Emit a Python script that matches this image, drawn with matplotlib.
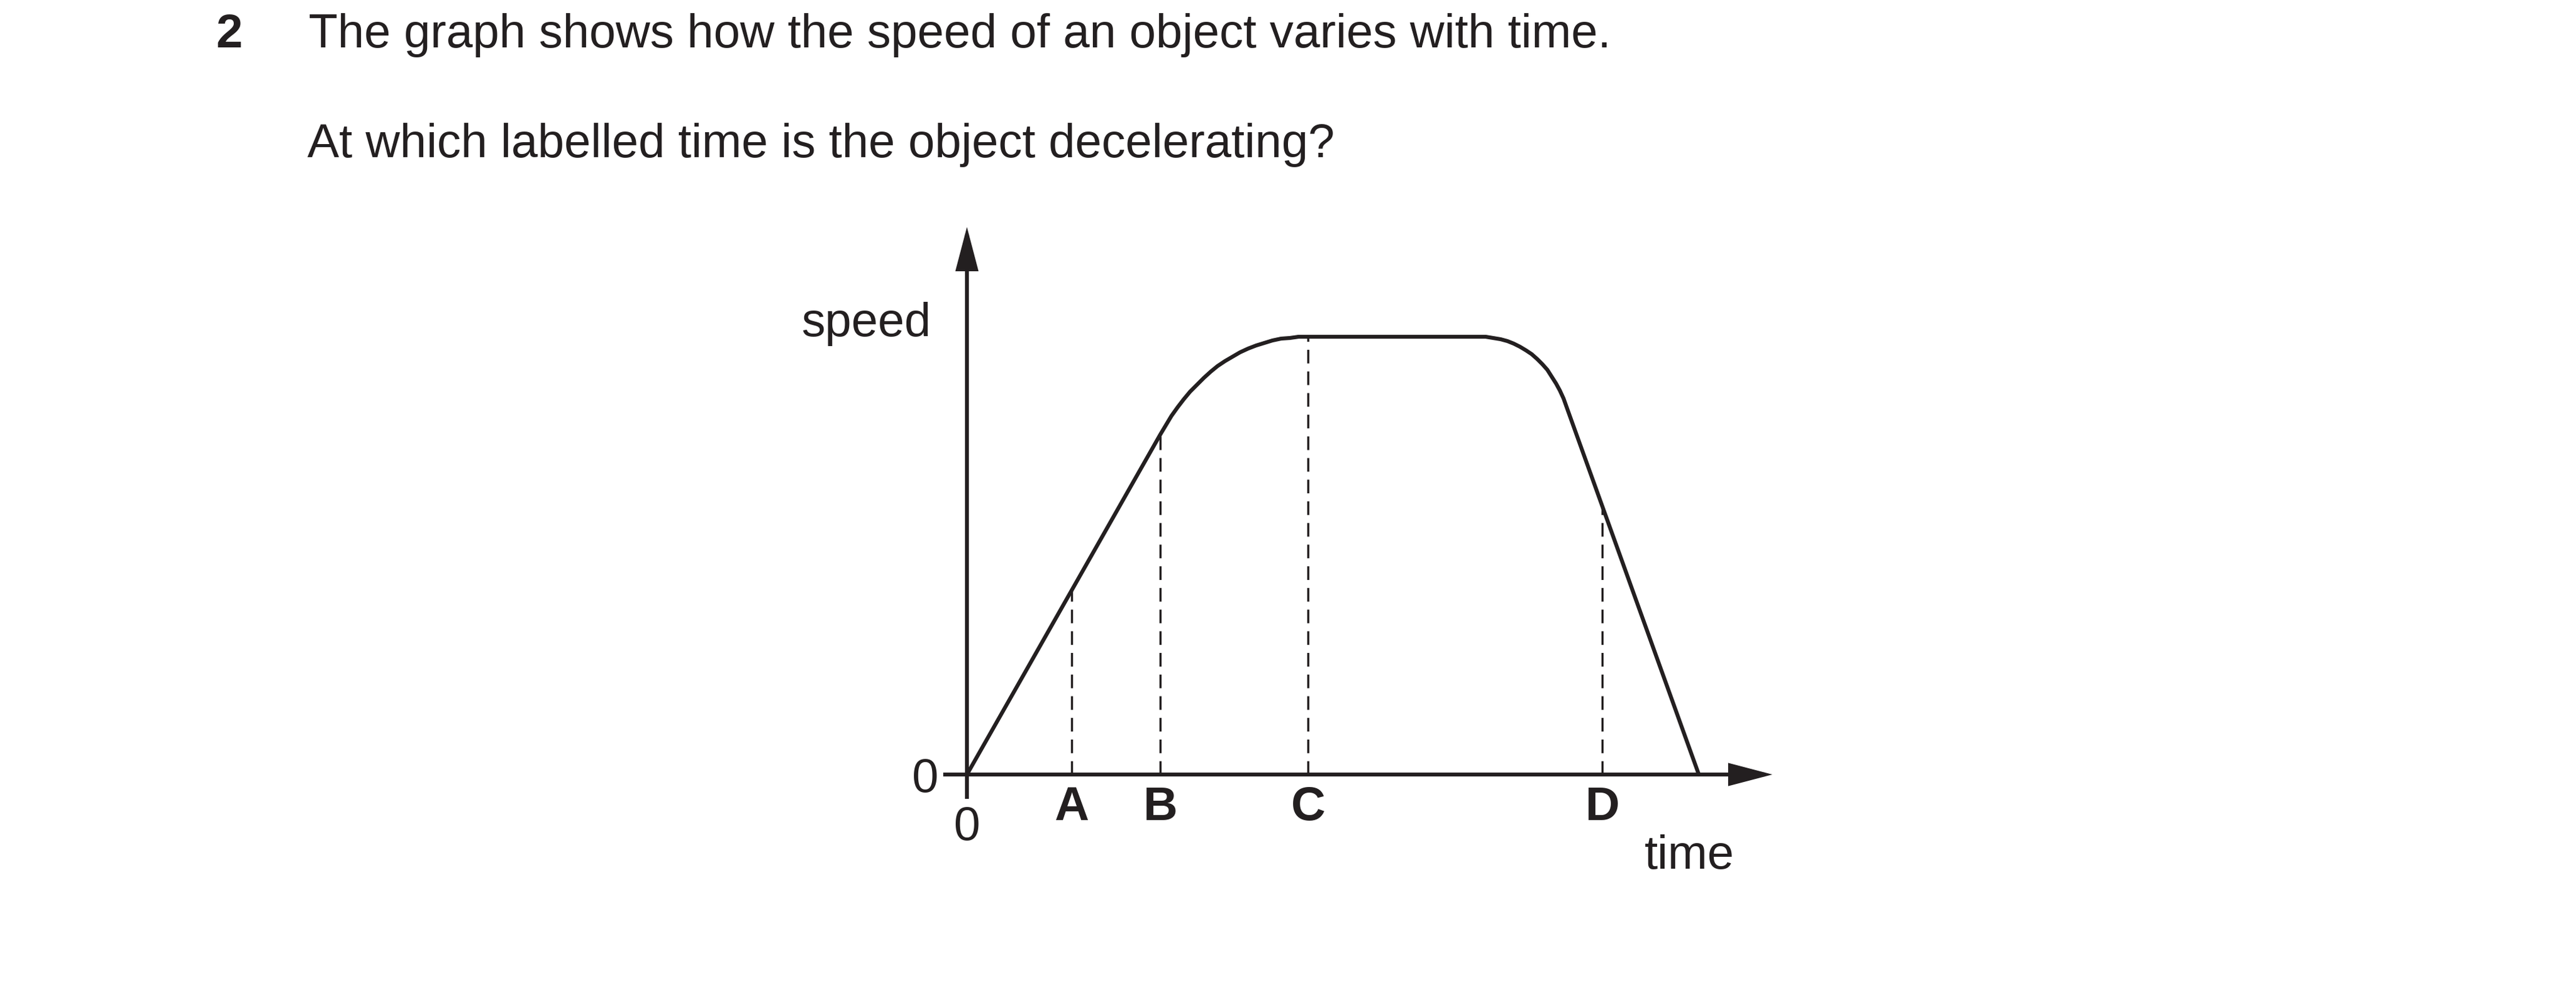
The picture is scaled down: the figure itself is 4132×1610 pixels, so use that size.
import matplotlib
matplotlib.use("Agg")
import matplotlib.pyplot as plt
from matplotlib.patches import FancyArrowPatch

plt.rcParams['font.family'] = ['Liberation Sans', 'DejaVu Sans']

# ---- data (time, speed) ----
curve_t = [0, 3.10, 3.19, 3.28, 3.38, 3.48, 3.58, 3.69, 3.80, 3.91, 4.02, 4.14,
           4.26, 4.38, 4.51, 4.64, 4.77, 4.90, 5.04, 5.18, 5.32, 5.47,
           8.20, 8.32, 8.44, 8.56, 8.67, 8.77, 8.87, 8.97, 9.06, 9.15, 9.23,
           9.31, 9.38, 9.45, 9.51, 9.57, 9.62, 11.74]
curve_v = [0, 5.45, 5.60, 5.75, 5.89, 6.02, 6.14, 6.25, 6.36, 6.46, 6.55, 6.63,
           6.70, 6.77, 6.83, 6.88, 6.92, 6.96, 6.99, 7.00, 7.02, 7.02,
           7.02, 7.02, 7.00, 6.98, 6.95, 6.91, 6.86, 6.80, 6.74, 6.66, 6.58,
           6.49, 6.38, 6.27, 6.16, 6.03, 5.89, 0]

label_names = ['A', 'B', 'C', 'D']
label_times = [1.68, 3.10, 5.47, 10.19]
label_speeds = [2.95, 5.45, 7.02, 4.27]

zero_label = ['0']
question_number = '2'
question_line1 = 'The graph shows how the speed of an object varies with time.'
question_line2 = 'At which labelled time is the object decelerating?'
y_label = 'speed'
x_label = 'time'

INK = '#231f20'
FS = 55
W, H = 4132, 1610

fig = plt.figure(figsize=(W / 100, H / 100), dpi=100)
fig.patch.set_facecolor('white')

# axes placed so that the origin sits where it is in the reference
ax = fig.add_axes([1551 / W, (H - 1242) / H, (2843 - 1551) / W, (1242 - 364) / H])
ax.set_xlim(0, 12.92)
ax.set_ylim(0, 8.78)
ax.patch.set_visible(False)
for s in ax.spines.values():
    s.set_visible(False)

# the speed-time curve
ax.plot(curve_t, curve_v, color=INK, lw=4.5, solid_joinstyle='round',
        solid_capstyle='round', clip_on=False, zorder=3)

# dashed drop lines
ax.vlines(label_times, 0, label_speeds, colors=INK, lw=2.5,
          linestyles=[(0, (6.3, 3.7))], zorder=2)

# axes with arrow heads
for start, end in [((-0.38, 0), (12.92, 0)), ((0, -0.39), (0, 8.78))]:
    arr = FancyArrowPatch(start, end, arrowstyle='-|>,head_length=40,head_width=10.5',
                          mutation_scale=1, lw=4.5, color=INK, shrinkA=0, shrinkB=0,
                          clip_on=False, zorder=4, capstyle='butt', joinstyle='miter')
    ax.add_patch(arr)

# ticks: 0 labels as major ticks, A-D as minor ticks
ax.set_xticks([0], labels=zero_label)
ax.set_yticks([0], labels=zero_label)
ax.set_xticks(label_times, labels=label_names, minor=True)
ax.tick_params(axis='x', which='major', length=0, pad=36, labelsize=FS, labelcolor=INK)
ax.tick_params(axis='y', which='major', length=0, pad=33, labelsize=FS, labelcolor=INK)
ax.tick_params(axis='x', which='minor', length=0, pad=13, labelsize=FS, labelcolor=INK)
for lbl in ax.get_xticklabels(minor=True):
    lbl.set_fontweight('bold')

ax.set_ylabel(y_label, rotation=0, ha='right', va='baseline', fontsize=FS, color=INK)
ax.yaxis.set_label_coords((1494 - 1551) / 1292, (1242 - 539) / 878)
ax.set_xlabel(x_label, ha='left', va='baseline', fontsize=FS, color=INK)
ax.xaxis.set_label_coords((2638 - 1551) / 1292, (1242 - 1393) / 878)

# question text
fig.text(346 / W, 1 - 76 / H, question_number, fontsize=FS, fontweight='bold',
         color=INK, ha='left', va='baseline')
fig.text(495 / W, 1 - 76 / H, question_line1, fontsize=FS, color=INK,
         ha='left', va='baseline')
fig.text(493 / W, 1 - 252 / H, question_line2, fontsize=FS, color=INK,
         ha='left', va='baseline')

fig.savefig('out.png', dpi=100, facecolor='white')
